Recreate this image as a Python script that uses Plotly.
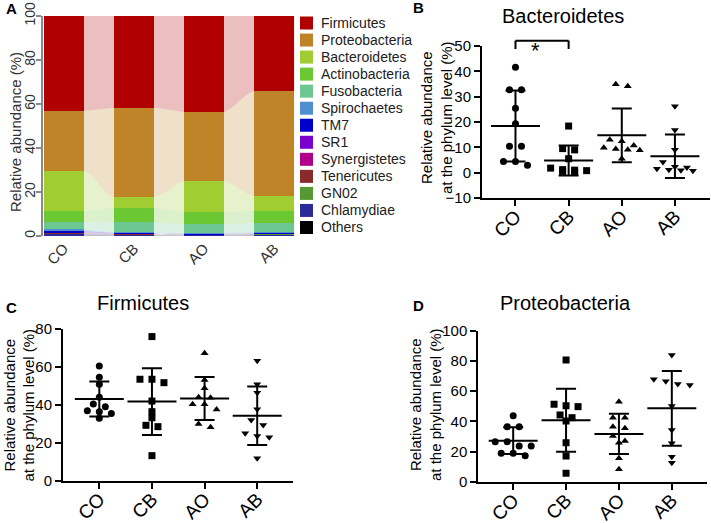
import numpy as np
import plotly.graph_objs as go

W, H = 711, 523
FONT = "Liberation Sans, Arial, sans-serif"

groups = ["CO", "CB", "AO", "AB"]

# panel A: mean relative abundance (%) per phylum, order CO, CB, AO, AB
phyla = ["Firmicutes", "Proteobacteria", "Bacteroidetes", "Actinobacteria",
         "Fusobacteria", "Spirochaetes", "TM7", "SR1", "Synergistetes",
         "Tenericutes", "GN02", "Chlamydiae", "Others"]
firmicutes = [43.1, 41.7, 43.6, 34.0]
proteobacteria = [27.2, 40.7, 31.4, 48.0]
bacteroidetes = [18.4, 4.8, 14.2, 6.5]
actinobacteria = [4.9, 6.5, 5.5, 5.5]
fusobacteria = [3.3, 4.7, 4.1, 4.3]
spirochaetes = [0.8, 0.2, 0.2, 0.3]
tm7 = [0.5, 0.2, 0.1, 0.1]
sr1 = [0.2, 0.1, 0.1, 0.1]
synergistetes = [0.2, 0.1, 0.1, 0.1]
tenericutes = [0.1, 0.1, 0.1, 0.1]
gn02 = [0.1, 0.1, 0.1, 0.1]
chlamydiae = [0.8, 0.5, 0.3, 0.5]
others = [0.4, 0.3, 0.2, 0.4]
phylum_colors = ["#b00000", "#bf8428", "#9fcd32", "#6cc832", "#6cc890",
                 "#4f8fd0", "#0000cc", "#7a00cc", "#b0008a", "#8b2a2a",
                 "#559933", "#2a2a99", "#000000"]

# panels B-D: per-sample relative abundance (%)
bact_co = [41.6, 32.7, 32.7, 25.4, 19.3, 10.4, 10.4, 4.4, 4.4, 2.9]
bact_cb = [18.4, 9.0, 9.5, 5.5, 1.8, 1.2, 0.8, 0.5, 0.3, 1.0]
bact_ao = [34.9, 34.1, 13.0, 12.4, 10.7, 9.8, 9.0, 8.8, 9.3, 5.5]
bact_ab = [26.2, 16.8, 9.0, 4.2, 2.0, 1.5, 1.0, 0.8, 1.2, 2.3]

firm_co = [60.5, 54.5, 50.8, 44.0, 40.5, 39.0, 36.4, 36.9, 35.5, 32.9]
firm_cb = [76.0, 53.5, 53.5, 51.7, 42.0, 36.4, 33.2, 29.2, 28.5, 13.2]
firm_ao = [67.2, 53.1, 48.7, 43.7, 44.0, 40.3, 40.3, 37.6, 28.2, 29.9]
firm_ab = [63.3, 50.8, 46.4, 37.7, 32.0, 29.4, 25.0, 23.6, 22.9, 11.8]

prot_co = [43.7, 36.4, 36.4, 26.5, 26.5, 23.6, 23.6, 18.8, 18.8, 17.2]
prot_cb = [80.6, 51.3, 50.3, 49.7, 42.4, 44.2, 40.2, 25.8, 17.0, 5.6]
prot_ao = [53.0, 42.4, 42.4, 36.4, 35.4, 30.3, 25.8, 27.0, 15.5, 8.2]
prot_ab = [83.9, 67.8, 66.5, 64.1, 64.7, 50.1, 34.2, 25.4, 12.6, 16.6]

symbols = ["circle", "square", "triangle-up", "triangle-down"]


def xdom(x0, x1):
    return [x0 / W, x1 / W]


def ydom(top, bottom):
    return [1 - bottom / H, 1 - top / H]


fig = go.Figure()

# ---- panel A: stacked bars with smoothed flows between them
bar_w = 0.57
a_vals = [firmicutes, proteobacteria, bacteroidetes, actinobacteria, fusobacteria,
          spirochaetes, tm7, sr1, synergistetes, tenericutes, gn02, chlamydiae, others]
flow_x = [g + s * bar_w / 2 for g in range(len(groups)) for s in (-1, 1)]


def rgba(hexcol, a):
    h = hexcol.lstrip("#")
    return "rgba(%d,%d,%d,%.2f)" % (int(h[0:2], 16), int(h[2:4], 16), int(h[4:6], 16), a)


for name, vals, col in reversed(list(zip(phyla, a_vals, phylum_colors))):
    fig.add_trace(go.Scatter(x=flow_x, y=[v for v in vals for _ in (0, 1)],
                             mode="lines", stackgroup="flow",
                             line=dict(width=0, shape="spline"),
                             fillcolor=rgba(col, 0.25), showlegend=False,
                             hoverinfo="skip", xaxis="x", yaxis="y"))
for name, vals, col in reversed(list(zip(phyla, a_vals, phylum_colors))):
    fig.add_trace(go.Bar(x=list(range(len(groups))), y=vals, name=name, width=bar_w,
                         marker=dict(color=col, line=dict(width=0)),
                         showlegend=False, xaxis="x5", yaxis="y5"))

# ---- panels B-D: scatter dot plots with mean +- SD
b_xd, b_yd, b_xr, b_yr = xdom(482, 710), ydom(46, 198), [-0.63, 3.66], [-10, 50]
panels = [
    ("2", [bact_co, bact_cb, bact_ao, bact_ab], b_xd, b_yd, b_xr, b_yr, 10),
    ("3", [firm_co, firm_cb, firm_ao, firm_ab], xdom(63, 293), ydom(329, 480.7), [-0.69, 3.68], [0, 80], 20),
    ("4", [prot_co, prot_cb, prot_ao, prot_ab], xdom(478.3, 706.7), ydom(330.7, 481.7), [-0.66, 3.66], [0, 100], 20),
]


def swarm(vals, ppu_x, ppu_y, step_px=12, tol_px=6, max_row=4):
    order = sorted(range(len(vals)), key=lambda k: -vals[k])
    rows = []
    for k in order:
        if rows and abs(vals[rows[-1][0]] - vals[k]) * ppu_y < tol_px and len(rows[-1]) < max_row:
            rows[-1].append(k)
        else:
            rows.append([k])
    offs = [0.0] * len(vals)
    for row in rows:
        n = len(row)
        for j, k in enumerate(row):
            offs[k] = (j - (n - 1) / 2) * step_px / ppu_x
    return offs


axis_common = dict(showline=True, linecolor="black", linewidth=2, ticks="outside",
                   ticklen=6, tickwidth=2, tickcolor="black", showgrid=False,
                   zeroline=False, fixedrange=True, automargin=False)

for sfx, data, xd, yd, xr, yr, dt in panels:
    ppu_x = (xd[1] - xd[0]) * W / (xr[1] - xr[0])
    ppu_y = (yd[1] - yd[0]) * H / (yr[1] - yr[0])
    for g, vals in enumerate(data):
        offs = swarm(vals, ppu_x, ppu_y)
        fig.add_trace(go.Scatter(x=[g + o for o in offs], y=vals, mode="markers",
                                 marker=dict(symbol=symbols[g], size=7, color="black"),
                                 cliponaxis=False, showlegend=False,
                                 xaxis="x" + sfx, yaxis="y" + sfx))
        fig.add_trace(go.Scatter(x=[g], y=[np.mean(vals)], mode="markers",
                                 marker=dict(symbol="line-ew-open", size=35, color="black",
                                             line=dict(width=2, color="black")),
                                 error_y=dict(type="data", array=[np.std(vals, ddof=1)],
                                              thickness=2, width=10, color="black"),
                                 cliponaxis=False, showlegend=False,
                                 xaxis="x" + sfx, yaxis="y" + sfx))
    fig.update_layout(**{
        "xaxis" + sfx: dict(axis_common, domain=xd, range=xr, anchor="y" + sfx,
                            tickvals=list(range(len(groups))), ticktext=groups,
                            tickangle=-45, ticklabelstandoff=-8,
                            tickfont=dict(size=19, color="black", family=FONT)),
        "yaxis" + sfx: dict(axis_common, domain=yd, range=yr, anchor="x" + sfx,
                            dtick=dt, tick0=0, tickfont=dict(size=15, color="black", family=FONT)),
    })

a_xd, a_yd = xdom(43, 296), ydom(16, 236)
a_xr, a_yr = [-0.3, 3.31], [0, 100]
fig.update_layout(
    xaxis=dict(domain=a_xd, range=a_xr, anchor="y", showline=False, showgrid=False,
               zeroline=False, tickvals=list(range(len(groups))), ticktext=groups,
               ticks="", tickangle=-45, automargin=False,
               tickfont=dict(size=15, color="#333", family=FONT), fixedrange=True),
    yaxis=dict(domain=a_yd, range=a_yr, anchor="x", showline=True, linecolor="#8a8a8a",
               linewidth=1.5, ticks="outside", ticklen=5, tickcolor="#8a8a8a", tickwidth=1.5,
               tickvals=[0, 20, 40, 60, 80, 100], tickangle=-90, showgrid=False, zeroline=False,
               ticklabelstandoff=-4, automargin=False,
               tickfont=dict(size=14, color="#333", family=FONT), fixedrange=True),
    xaxis5=dict(overlaying="x", range=a_xr, visible=False, anchor="y5", fixedrange=True),
    yaxis5=dict(overlaying="y", range=a_yr, visible=False, anchor="x5", fixedrange=True),
    barmode="stack",
)

# legend for panel A, drawn by hand to keep the tight spacing
shapes = []
annotations = []
for k, (name, col) in enumerate(zip(phyla, phylum_colors)):
    yc = 23 + 17.04 * k
    shapes.append(dict(type="rect", xref="paper", yref="paper", x0=300 / W, x1=313 / W,
                       y0=1 - (yc + 6.5) / H, y1=1 - (yc - 6.5) / H,
                       fillcolor=col, line=dict(width=0)))
    annotations.append(dict(text=name, xref="paper", yref="paper", x=319 / W, y=1 - yc / H,
                            xanchor="left", yanchor="middle", showarrow=False,
                            font=dict(size=14, color="#222", family=FONT)))

# significance bracket CO vs CB in panel B (in axis-domain fractions so it is not clipped)
bx = lambda v: (v - b_xr[0]) / (b_xr[1] - b_xr[0])
by = lambda v: (v - b_yr[0]) / (b_yr[1] - b_yr[0])
for x0, y0, x1, y1 in [(0, 48.8, 0, 52.1), (0, 52.1, 1, 52.1), (1, 52.1, 1, 48.8)]:
    shapes.append(dict(type="line", xref="x2 domain", yref="y2 domain",
                       x0=bx(x0), y0=by(y0), x1=bx(x1), y1=by(y1),
                       line=dict(color="black", width=2)))
annotations.append(dict(text="*", xref="paper", yref="paper",
                        x=b_xd[0] + bx(0.5) * (b_xd[1] - b_xd[0]),
                        y=b_yd[0] + by(54.0) * (b_yd[1] - b_yd[0]),
                        showarrow=False, font=dict(size=22, color="black", family=FONT)))


# titles, panel letters and y-axis titles
def ann(text, x, y, size, bold=False, angle=0, color="black"):
    annotations.append(dict(text="<b>%s</b>" % text if bold else text, x=x / W, y=1 - y / H,
                            xref="paper", yref="paper", showarrow=False, textangle=angle,
                            xanchor="center", yanchor="middle",
                            font=dict(size=size, color=color, family=FONT)))


ann("Bacteroidetes", 563, 16, 20)
ann("Firmicutes", 143, 303, 20)
ann("Proteobacteria", 565, 303, 20)
ann("A", 12, 9, 15, bold=True)
ann("B", 418, 8, 15, bold=True)
ann("C", 11, 307, 15, bold=True)
ann("D", 418, 305, 15, bold=True)
ann("Relative abundance (%)", 15, 132, 15, angle=-90, color="#333")
ylab = "Relative abundance<br>at the phylum level (%)"
ann(ylab, 436, 118, 15, angle=-90)
ann(ylab, 18.5, 405, 15, angle=-90)
ann(ylab, 425, 404, 15, angle=-90)

fig.update_layout(
    template="none",
    width=W, height=H, margin=dict(l=0, r=0, t=0, b=0, autoexpand=False),
    paper_bgcolor="white", plot_bgcolor="white",
    font=dict(family=FONT, color="black"),
    shapes=shapes, annotations=annotations, showlegend=False,
)

# drop the browser's default 8px body margin so the figure sits at the page corner
fig.write_html("out.html", config={"displayModeBar": False},
               post_script="document.body.style.margin='0';")
